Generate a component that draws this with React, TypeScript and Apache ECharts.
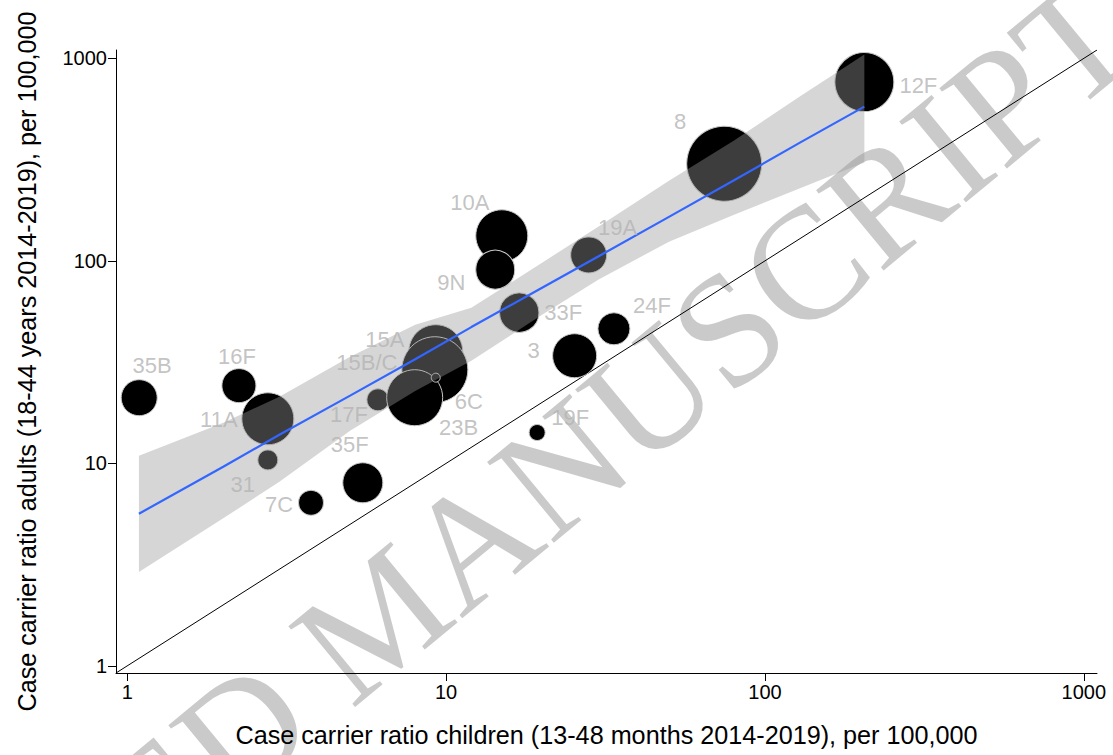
import React, { useEffect, useRef } from "react";
import * as echarts from "echarts";

// ---- data ----
const serotypes = ["35B", "16F", "11A", "31", "7C", "35F", "17F", "15A", "15B/C", "23B", "6C", "10A", "9N", "33F", "3", "24F", "19F", "19A", "8", "12F"];
const childRatio = [1.09, 2.24, 2.76, 2.76, 3.77, 5.48, 6.11, 9.28, 9.22, 7.97, 9.28, 14.95, 14.26, 16.96, 25.3, 33.6, 19.3, 28.0, 74.5, 205];
const adultRatio = [21.1, 24.2, 16.6, 10.4, 6.39, 8.02, 20.6, 35.6, 29.0, 21.1, 26.5, 133, 90.5, 55.5, 34.0, 46.2, 14.2, 107, 302, 764];
const cases = [324, 289, 676, 100, 156, 400, 121, 729, 1089, 784, 20, 676, 380, 388, 484, 256, 64, 324, 1406, 870];

// fitted line and confidence band (log-log regression)
const fitX = [1.088, 2, 3, 5, 8, 12, 20, 30, 50, 80, 130, 205];
const fitY = [5.64, 9.63, 13.85, 21.6, 32.7, 47.1, 73.7, 105.1, 165, 250, 387, 578];
const bandLower = [2.91, 5.35, 8.11, 14.5, 22.8, 32.1, 54.2, 80.7, 124.4, 169, 230, 305.7];
const bandUpper = [10.9, 15.87, 21.33, 33.6, 48.4, 58.7, 97.9, 147.6, 249, 393, 655, 1044];

const tickValues = [1, 10, 100, 1000];
const axisMin = 0.922;
const axisMax = 1100;

// ---- layout (label offsets in px from point centre) ----
const labelOffsets: [number, number][] = [
  [13, -32], [-2, -29], [-49, 1], [-25, 25], [-32, 2], [-13, -38], [-29, 15],
  [-51, -12], [-68, -7], [44, 30], [33, 24], [-32, -33], [-44, 13], [44, 0],
  [-41, -5], [38, -23], [33, -15], [29, -27], [-44, -42], [54, 3],
];

const FONT = "Arial, 'Liberation Sans', Helvetica, sans-serif";
const WM_FONT = "160px 'Liberation Serif', 'Times New Roman', serif";

export default function App() {
  const ref = useRef<HTMLDivElement>(null);

  useEffect(() => {
    if (!ref.current) return;
    const chart = echarts.init(ref.current, undefined, { renderer: "svg" });

    const points = serotypes.map((name, i) => ({
      name,
      value: [childRatio[i], adultRatio[i], cases[i]],
    }));
    const labelPoints = serotypes.map((name, i) => ({
      name,
      value: [childRatio[i], adultRatio[i]],
      label: { offset: labelOffsets[i] },
    }));

    const axisCommon = {
      type: "log" as const,
      logBase: 10,
      min: axisMin,
      max: axisMax,
      axisLine: { show: true, onZero: false, lineStyle: { color: "#000", width: 1 } },
      axisTick: { show: true, length: 8, customValues: tickValues, lineStyle: { color: "#000", width: 1 } },
      axisLabel: {
        customValues: tickValues,
        color: "#000",
        fontSize: 20,
        fontFamily: FONT,
        formatter: (v: number) => String(Math.round(v)),
      },
      splitLine: { show: false },
      minorTick: { show: false },
      nameLocation: "middle" as const,
      nameTextStyle: { color: "#000", fontSize: 25.2, fontFamily: FONT },
    };

    chart.setOption({
      animation: false,
      backgroundColor: "#fff",
      grid: { left: 116, top: 50, width: 981, height: 623, containLabel: false },
      xAxis: {
        ...axisCommon,
        name: "Case carrier ratio children (13-48 months 2014-2019), per 100,000",
        nameGap: 49,
        axisLabel: { ...axisCommon.axisLabel, margin: 9 },
      },
      yAxis: {
        ...axisCommon,
        name: "Case carrier ratio adults (18-44 years 2014-2019), per 100,000",
        nameGap: 77,
        nameRotate: 90,
        axisLabel: { ...axisCommon.axisLabel, margin: 9 },
      },
      series: [
        {
          type: "line",
          data: [[axisMin, axisMin], [axisMax, axisMax]],
          symbol: "none",
          lineStyle: { color: "#000", width: 1 },
          z: 1,
          silent: true,
        },
        {
          type: "scatter",
          data: points,
          symbolSize: (val: number[]) => 2 * Math.sqrt(val[2]),
          itemStyle: { color: "#000", borderColor: "#c8c8c8", borderWidth: 1, opacity: 1 },
          z: 2,
          silent: true,
        },
        {
          type: "custom",
          coordinateSystem: "cartesian2d",
          data: [[fitX[0], fitY[0]]],
          renderItem: (_params: any, api: any) => {
            const pts: number[][] = [];
            for (let i = 0; i < fitX.length; i++) pts.push(api.coord([fitX[i], bandUpper[i]]));
            for (let i = fitX.length - 1; i >= 0; i--) pts.push(api.coord([fitX[i], bandLower[i]]));
            return {
              type: "polygon",
              shape: { points: pts },
              style: { fill: "rgba(153,153,153,0.4)", stroke: "none" },
            };
          },
          z: 3,
          silent: true,
        },
        {
          type: "line",
          data: fitX.map((x, i) => [x, fitY[i]]),
          symbol: "none",
          lineStyle: { color: "#3366FF", width: 2.2 },
          z: 4,
          silent: true,
        },
        {
          type: "scatter",
          data: labelPoints,
          symbolSize: 0,
          label: {
            show: true,
            position: "inside",
            formatter: "{b}",
            color: "#b4b4b4",
            fontSize: 22,
            fontFamily: FONT,
          },
          z: 5,
          silent: true,
        },
      ],
      graphic: [
        {
          type: "group",
          x: 368,
          y: 730,
          rotation: 0.69,
          z: 100,
          silent: true,
          children: [
            {
              type: "text",
              x: 0,
              y: 0,
              style: {
                text: "MANUSCRIPT",
                font: WM_FONT,
                fill: "rgba(150,150,150,0.5)",
                textAlign: "left",
                textVerticalAlign: "bottom",
              },
            },
            {
              type: "text",
              x: -40,
              y: 0,
              style: {
                text: "ACCEPTED",
                font: WM_FONT,
                fill: "rgba(150,150,150,0.5)",
                textAlign: "right",
                textVerticalAlign: "bottom",
              },
            },
          ],
        },
      ],
    });

    return () => chart.dispose();
  }, []);

  return (
    <div
      ref={ref}
      style={{ position: "fixed", left: 0, top: 0, width: 1113, height: 755 }}
    />
  );
}
